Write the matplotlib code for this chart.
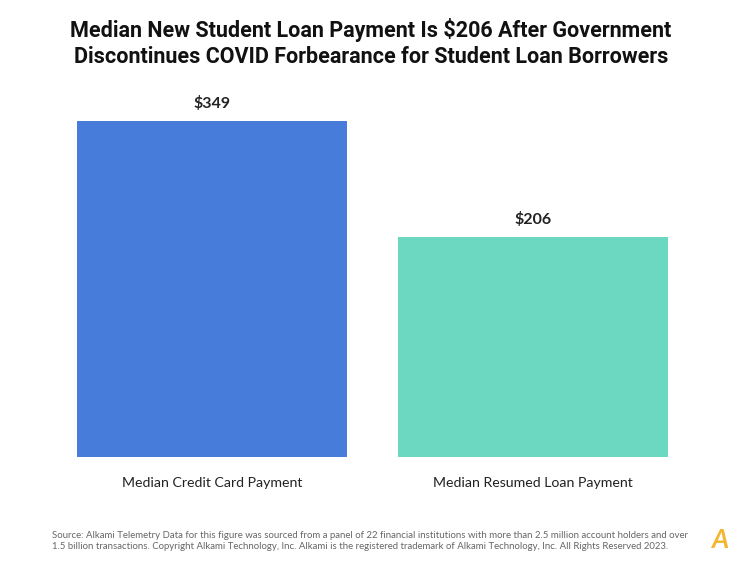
import matplotlib.pyplot as plt
from matplotlib import font_manager

categories = ['Median Credit Card Payment', 'Median Resumed Loan Payment']
values = [349, 206]
value_labels = ['$349', '$206']
colors = ['#487CDB', '#6CD8C1']

title = ('Median New Student Loan Payment Is $206 After Government\n'
         'Discontinues COVID Forbearance for Student Loan Borrowers')
source = ('Source: Alkami Telemetry Data for this figure was sourced from a panel of 22 financial institutions '
          'with more than 2.5 million account holders and over\n'
          '1.5 billion transactions. Copyright Alkami Technology, Inc. Alkami is the registered trademark of '
          'Alkami Technology, Inc. All Rights Reserved 2023.')

names = {f.name for f in font_manager.fontManager.ttflist}
title_font = 'Liberation Sans Narrow' if 'Liberation Sans Narrow' in names else 'Roboto'

# the chart's axis does not start at zero
base = -65

W, H = 742, 567
fig = plt.figure(figsize=(W / 100, H / 100), dpi=100)
ax = fig.add_axes([77 / W, (H - 457) / H, (668 - 77) / W, (457 - 121) / H])

x = range(len(categories))
ax.bar(x, [v - base for v in values], bottom=base, width=0.841, color=colors)
ax.set_xlim(-0.4205, 1.4205)
ax.set_ylim(base, max(values))
ax.axis('off')

for i, (v, lab) in enumerate(zip(values, value_labels)):
    ax.annotate(lab, (i, v), xytext=(0, 7), textcoords='offset points', ha='center', va='bottom',
                fontsize=11.5, fontweight='bold', family='Lato', color='#222222', annotation_clip=False)
    ax.annotate(categories[i], (i, base), xytext=(0, -14.5), textcoords='offset points', ha='center', va='top',
                fontsize=10.2, family='Lato', color='#222222', annotation_clip=False)

fig.text(371 / W, 1 - 43 / H, title, ha='center', va='center', fontsize=15.5, fontweight='bold',
         family=title_font, color='#111111', linespacing=1.25)
fig.text(52 / W, 1 - 541 / H, source, ha='left', va='center', fontsize=6.9, family='Lato',
         color='#666666', linespacing=1.3)
fig.text(720 / W, 1 - 540 / H, 'A', ha='center', va='center', fontsize=19, fontweight='bold',
         style='italic', family='Lato', color='#F4B731')

fig.savefig('out.png', dpi=100)
